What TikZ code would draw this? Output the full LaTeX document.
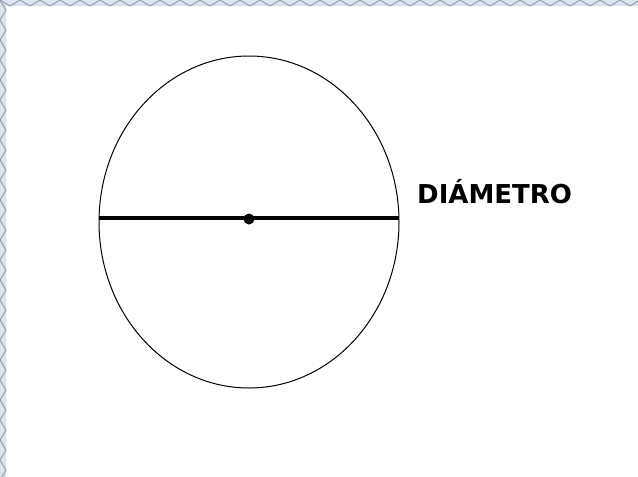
\documentclass[tikz,border=0pt]{standalone}
\usepackage{fontspec}
\usetikzlibrary{shapes.geometric}
\newfontfamily\labelfont{DejaVu Sans}
\definecolor{strip}{RGB}{219,229,241}
\definecolor{zig}{RGB}{160,165,175}
\tikzset{
  circ/.style={draw=black, line width=1pt},
  diam/.style={draw=black, line width=3.2pt},
  lbl/.style={font=\labelfont\bfseries\fontsize{26}{26}\selectfont, inner sep=0pt, anchor=base west},
  zigline/.style={draw=zig, line width=1.2pt}
}
\begin{document}
\begin{tikzpicture}[x=1pt,y=-1pt]
\useasboundingbox (0,0) rectangle (638,477);
\fill[white] (0,0) rectangle (638,477);
% border strips
\fill[strip] (0,0) rectangle (638,6);
\fill[strip] (0,0) rectangle (6,477);
\draw[zigline] (0,0) \foreach \i in {0,...,32} { -- ({\i*20+10},6) -- ({\i*20+20},0) };
\draw[zigline] (0,0) \foreach \i in {0,...,24} { -- (6,{\i*20+10}) -- (0,{\i*20+20}) };
% circle
\node[circ, ellipse, minimum width=300pt, minimum height=332pt, inner sep=0pt] (c) at (249,222) {};
\coordinate (L) at (99,218);
\coordinate (R) at (399,218);
\coordinate (O) at (249,219);
\draw[diam] (L) -- (R);
\fill (O) circle (5.5pt);
\node[lbl] (t) at (417,203) {DIÁMETRO};
\end{tikzpicture}
\end{document}
